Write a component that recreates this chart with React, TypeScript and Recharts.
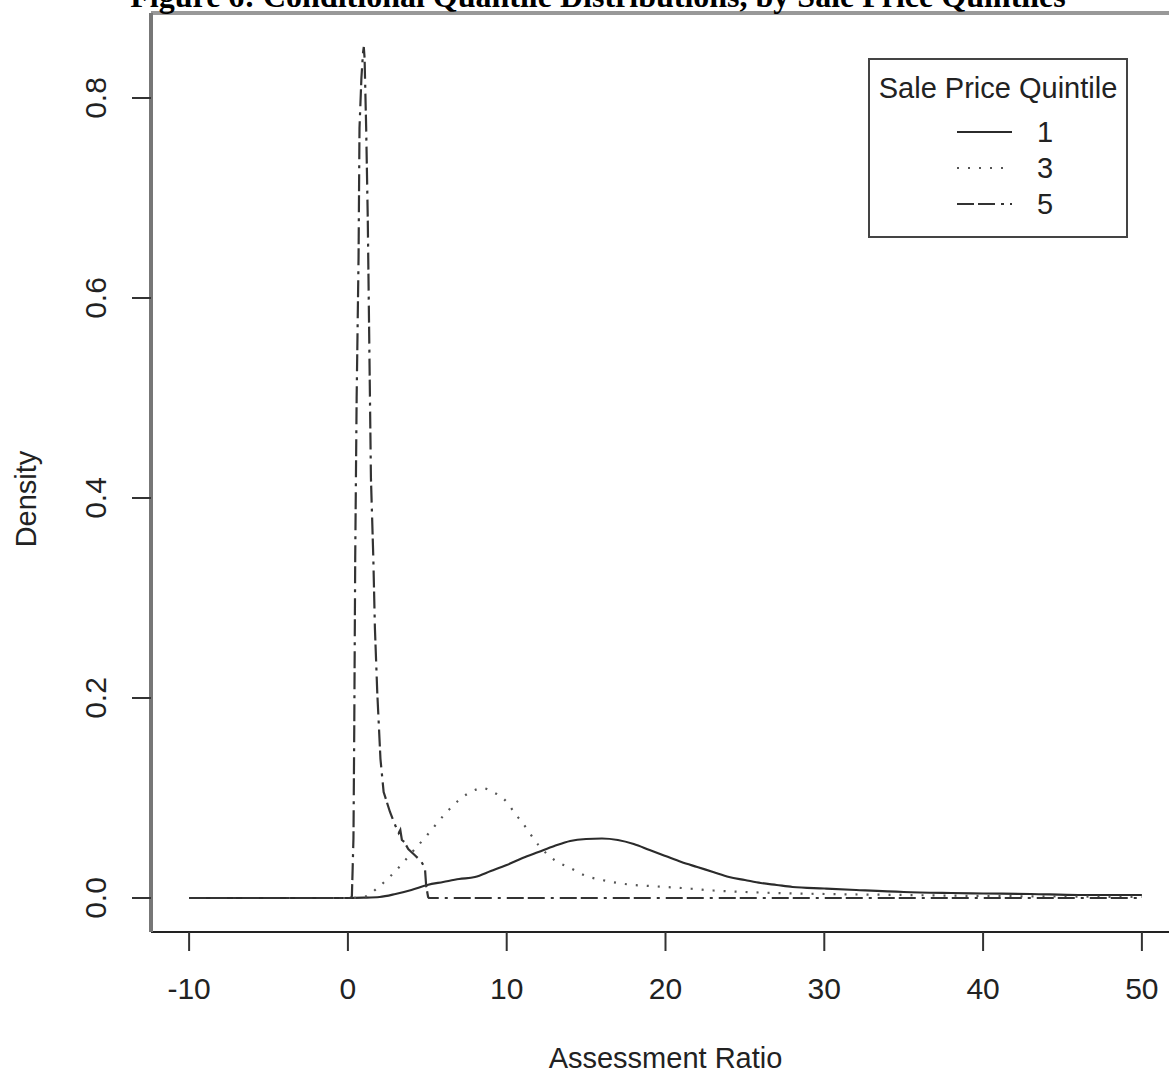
import { LineChart, Line, XAxis, YAxis, ReferenceLine, Legend, Label } from "recharts";

// axis ticks
const xTicks = [-10, 0, 10, 20, 30, 40, 50];
const yTicks = [0, 0.2, 0.4, 0.6, 0.8];

// quintile 1 (solid)
const q1X = [-10, -2, 0, 1, 2, 3, 4, 5, 6, 7, 8, 9, 10, 11, 12, 13, 14, 15, 16, 17, 18, 19, 20, 21, 22, 23, 24, 25, 26, 27, 28, 30, 32, 35, 38, 40, 43, 46, 48, 50];
const q1Density = [0, 0, 0, 0.0003, 0.001, 0.004, 0.008, 0.013, 0.016, 0.019, 0.021, 0.027, 0.033, 0.04, 0.046, 0.052, 0.057, 0.059, 0.0595, 0.058, 0.054, 0.048, 0.042, 0.036, 0.031, 0.026, 0.021, 0.018, 0.015, 0.013, 0.011, 0.0095, 0.008, 0.006, 0.005, 0.0045, 0.004, 0.003, 0.003, 0.003];

// quintile 3 (dotted)
const q3X = [-10, 0, 1, 2, 3, 4, 5, 6, 7, 8, 8.5, 9, 10, 10.5, 11, 12, 13, 14, 15, 16, 17, 18, 19, 20, 21, 23, 25, 27, 30, 35, 40, 45, 50];
const q3Density = [0, 0, 0.001, 0.012, 0.027, 0.045, 0.063, 0.082, 0.098, 0.108, 0.11, 0.107, 0.096, 0.085, 0.075, 0.053, 0.038, 0.03, 0.022, 0.018, 0.015, 0.013, 0.012, 0.011, 0.01, 0.0075, 0.006, 0.005, 0.004, 0.003, 0.002, 0.0015, 0.001];

// quintile 5 (dash-dot)
const q5X = [-10, 0, 0.2, 0.25, 0.3, 0.35, 0.4, 0.46, 0.55, 0.67, 0.73, 0.85, 0.95, 1.0, 1.05, 1.15, 1.25, 1.35, 1.45, 1.6, 1.7, 1.85, 1.95, 2.05, 2.25, 2.65, 3.0, 3.2, 3.3, 3.4, 3.55, 3.8, 4.2, 4.6, 4.85, 4.93, 5.05, 5.1, 10, 20, 30, 40, 50];
const q5Density = [0, 0, 0, 0.002, 0.03, 0.06, 0.17, 0.34, 0.5, 0.64, 0.77, 0.82, 0.845, 0.851, 0.84, 0.77, 0.68, 0.55, 0.42, 0.34, 0.27, 0.205, 0.172, 0.139, 0.106, 0.086, 0.072, 0.065, 0.068, 0.058, 0.056, 0.049, 0.043, 0.037, 0.03, 0.012, 0.001, 0, 0, 0, 0, 0, 0];

const legendTitle = "Sale Price Quintile";
const quintileNames = ["1", "3", "5"];

const toPoints = (xs: number[], ys: number[]) => xs.map((x, i) => ({ x, density: ys[i] }));

const series = [
  { name: quintileNames[0], data: toPoints(q1X, q1Density), curve: "monotone", stroke: "#2b2b2b", width: 2.2, dash: undefined as string | undefined },
  { name: quintileNames[1], data: toPoints(q3X, q3Density), curve: "monotone", stroke: "#555", width: 2.2, dash: "2 9" },
  { name: quintileNames[2], data: toPoints(q5X, q5Density), curve: "linear", stroke: "#333", width: 2.2, dash: "17 4 17 6 3 6" },
];

const SANS = "'Liberation Sans', Arial, Helvetica, sans-serif";
const INK = "#222";

function XTick({ x, y, payload }: any) {
  return (
    <text x={x} y={y + 48} textAnchor="middle" fontFamily={SANS} fontSize={30} fill={INK}>
      {payload.value}
    </text>
  );
}

function YTick({ x, y, payload }: any) {
  return (
    <text
      transform={`translate(${x - 26},${y}) rotate(-90)`}
      textAnchor="middle"
      fontFamily={SANS}
      fontSize={30}
      fill={INK}
    >
      {Number(payload.value).toFixed(1)}
    </text>
  );
}

function QuintileLegend() {
  return (
    <div
      style={{
        width: 260,
        height: 180,
        boxSizing: "border-box",
        border: "2px solid #444",
        background: "#fff",
        fontFamily: SANS,
        color: INK,
        position: "relative",
      }}
    >
      <svg width={256} height={176} style={{ position: "absolute", left: 0, top: 0 }}>
        <text x={128} y={38} textAnchor="middle" fontSize={29} fill={INK}>
          {legendTitle}
        </text>
        {series.map((s, i) => (
          <g key={s.name}>
            <line
              x1={87}
              x2={142}
              y1={72 + i * 36}
              y2={72 + i * 36}
              stroke={s.stroke}
              strokeWidth={s.width}
              strokeDasharray={s.dash}
            />
            <text x={175} y={82 + i * 36} textAnchor="middle" fontSize={29} fill={INK}>
              {s.name}
            </text>
          </g>
        ))}
      </svg>
    </div>
  );
}

export default function App() {
  return (
    <div
      style={{
        position: "fixed",
        left: 0,
        top: 0,
        width: 1169,
        height: 1076,
        overflow: "hidden",
        background: "#fff",
      }}
    >
      <LineChart width={1200} height={1076} margin={{ top: 13, right: 20, bottom: 0, left: 0 }}>
        <XAxis
          dataKey="x"
          type="number"
          domain={[-12.4, 52.4]}
          ticks={xTicks}
          allowDataOverflow
          height={144}
          axisLine={{ stroke: "#222", strokeWidth: 2 }}
          tickLine={{ stroke: "#333", strokeWidth: 2 }}
          tickSize={19}
          tickMargin={0}
          tick={<XTick />}
        >
          <Label
            content={({ viewBox }: any) => (
              <text
                x={viewBox.x + viewBox.width / 2}
                y={viewBox.y + 136}
                textAnchor="middle"
                fontFamily={SANS}
                fontSize={29}
                fill={INK}
              >
                Assessment Ratio
              </text>
            )}
          />
        </XAxis>
        <YAxis
          dataKey="density"
          type="number"
          domain={[-0.034, 0.885]}
          ticks={yTicks}
          allowDataOverflow
          width={151}
          axisLine={{ stroke: "#777", strokeWidth: 4 }}
          tickLine={{ stroke: "#333", strokeWidth: 2 }}
          tickSize={19}
          tickMargin={0}
          tick={<YTick />}
        >
          <Label
            content={({ viewBox }: any) => (
              <text
                transform={`translate(36,${viewBox.y + 486}) rotate(-90)`}
                textAnchor="middle"
                fontFamily={SANS}
                fontSize={29}
                fill={INK}
              >
                Density
              </text>
            )}
          />
        </YAxis>
        <ReferenceLine y={0.885} stroke="#999" strokeWidth={4} ifOverflow="visible" />
        {series.map((s) => (
          <Line
            key={s.name}
            name={s.name}
            data={s.data}
            dataKey="density"
            type={s.curve as any}
            stroke={s.stroke}
            strokeWidth={s.width}
            strokeDasharray={s.dash}
            dot={false}
            activeDot={false}
            isAnimationActive={false}
          />
        ))}
        <Legend
          layout="vertical"
          align="center"
          verticalAlign="middle"
          content={<QuintileLegend />}
          wrapperStyle={{ left: 868, top: 58, width: 260, height: 180 }}
        />
      </LineChart>
      <svg width={1169} height={30} style={{ position: "absolute", left: 0, top: 0 }}>
        <text
          x={598}
          y={7}
          textAnchor="middle"
          fontFamily="'Liberation Serif', 'Times New Roman', serif"
          fontWeight="bold"
          fontSize={32}
          fill="#000"
        >
          Figure 6: Conditional Quantile Distributions, by Sale Price Quintiles
        </text>
      </svg>
    </div>
  );
}
